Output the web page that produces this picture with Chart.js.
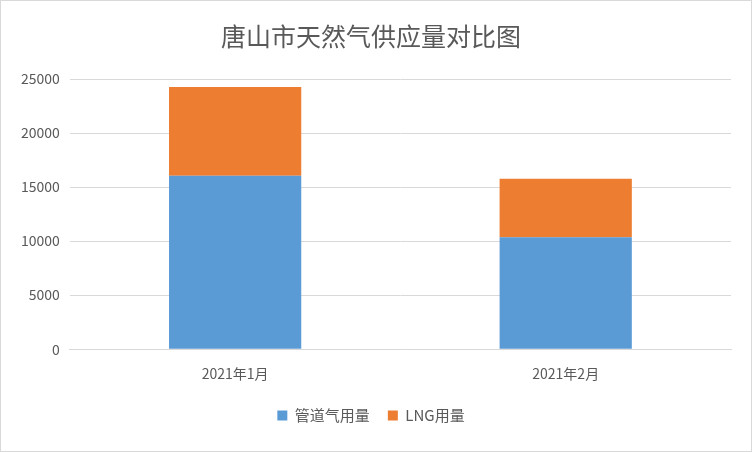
<!DOCTYPE html>
<html><head><meta charset="utf-8">
<script src="https://cdn.jsdelivr.net/npm/chart.js@4"></script>
<style>html,body{margin:0;padding:0;background:#fff}#w{width:750px;height:450px;border:1px solid #d9d9d9}</style>
</head><body><div id="w"><canvas id="c" width="750" height="450"></canvas></div>
<script>
const categories = ['2021年1月', '2021年2月'];
const pipeGas = [16050, 10350];
const lng = [8200, 5430];
const font = "'Noto Sans CJK SC', sans-serif";
new Chart(document.getElementById('c'), {
  type: 'bar',
  data: { labels: categories, datasets: [
    { label: '管道气用量', data: pipeGas, backgroundColor: '#5b9bd5' },
    { label: 'LNG用量', data: lng, backgroundColor: '#ed7d31' }
  ]},
  options: {
    responsive: false, animation: false,
    layout: { padding: { left: 10, right: 20, top: 12, bottom: 18 } },
    datasets: { bar: { barPercentage: 0.4, categoryPercentage: 1 } },
    plugins: {
      title: { display: true, text: '唐山市天然气供应量对比图', color: '#595959', font: { family: font, size: 25, weight: 'normal' }, padding: { top: 8, bottom: 28 } },
      legend: { position: 'bottom', labels: { color: '#595959', boxWidth: 10, boxHeight: 10, font: { family: font, size: 15 }, padding: 18 } },
      tooltip: { enabled: false }
    },
    scales: {
      x: { stacked: true, grid: { display: false }, border: { color: '#d9d9d9' }, ticks: { color: '#595959', font: { family: font, size: 14 }, padding: 8 } },
      y: { stacked: true, min: 0, max: 25000, ticks: { stepSize: 5000, color: '#595959', font: { family: font, size: 14 }, padding: 10, callback: v => String(v) }, grid: { color: '#d9d9d9', drawTicks: false }, border: { display: false } }
    }
  }
});
</script></body></html>
